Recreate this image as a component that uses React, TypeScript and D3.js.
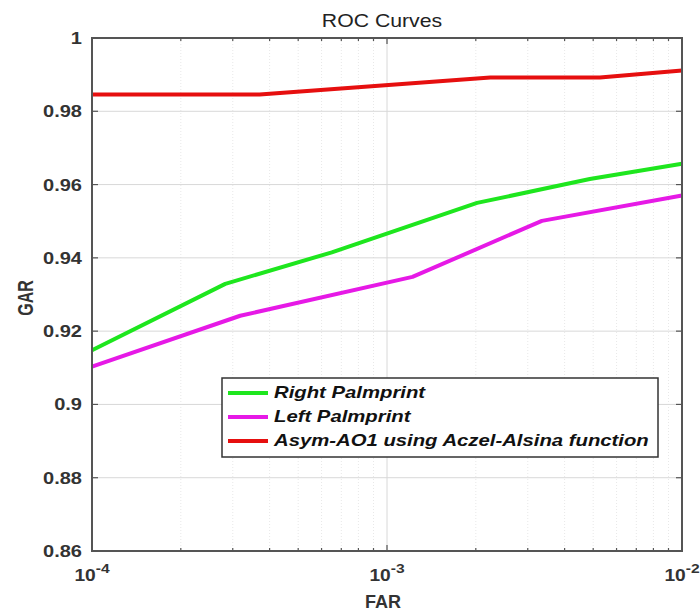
import React from "react";
import * as d3 from "d3";

const rightFar = [1e-4, 2.83e-4, 6.5e-4, 2.02e-3, 4.87e-3, 1e-2];
const rightGar = [0.9148, 0.9329, 0.9415, 0.955, 0.9615, 0.9657];
const leftFar = [1e-4, 3.18e-4, 1.22e-3, 3.35e-3, 1e-2];
const leftGar = [0.9103, 0.9242, 0.9348, 0.9501, 0.957];
const fusedFar = [1e-4, 3.7e-4, 2.24e-3, 5.27e-3, 1e-2];
const fusedGar = [0.9846, 0.9846, 0.9892, 0.9892, 0.9911];

const yTicks = [0.86, 0.88, 0.9, 0.92, 0.94, 0.96, 0.98, 1];
const yTickLabels = ["0.86", "0.88", "0.9", "0.92", "0.94", "0.96", "0.98", "1"];
const xTicks = [1e-4, 1e-3, 1e-2];
const xExps = ["-4", "-3", "-2"];

const seriesNames = ["Right Palmprint", "Left Palmprint", "Asym-AO1 using Aczel-Alsina function"];
const seriesColors = ["#1ee61e", "#e619e6", "#e60f0f"];

export default function App() {
  const W = 700, H = 612;
  const L = 92, R = 682, T = 38, B = 551;
  const SX = 1.25;
  const x = d3.scaleLog().domain([1e-4, 1e-2]).range([L, R]);
  const y = d3.scaleLinear().domain([0.86, 1]).range([B, T]);
  const line = d3.line<[number, number]>().x(d => x(d[0])).y(d => y(d[1]));
  const series: [number, number][][] = [
    rightFar.map((f, i) => [f, rightGar[i]]),
    leftFar.map((f, i) => [f, leftGar[i]]),
    fusedFar.map((f, i) => [f, fusedGar[i]]),
  ];
  const minor: number[] = [];
  for (const dec of [1e-4, 1e-3]) for (let k = 2; k <= 9; k++) minor.push(dec * k);
  const font = "Arial, 'Liberation Sans', sans-serif";
  const legX = 222, legY = 378, legW = 436, legH = 79;
  return (
    <svg width={W} height={H} style={{ position: "absolute", left: 0, top: 0, background: "#fff" }} fontFamily={font}>
      <rect x={0} y={0} width={W} height={H} fill="#fff" />
      {minor.map((m, i) => (
        <line key={"mg" + i} x1={x(m)} x2={x(m)} y1={T} y2={B} stroke="#e8e8e8" strokeWidth={1} strokeDasharray="1,2" />
      ))}
      {xTicks.map((t, i) => (
        <line key={"xg" + i} x1={x(t)} x2={x(t)} y1={T} y2={B} stroke="#d8d8d8" strokeWidth={1} />
      ))}
      {yTicks.map((t, i) => (
        <line key={"yg" + i} x1={L} x2={R} y1={y(t)} y2={y(t)} stroke="#d8d8d8" strokeWidth={1} />
      ))}
      {series.map((s, i) => (
        <path key={"s" + i} d={line(s) || ""} fill="none" stroke={seriesColors[i]} strokeWidth={4} strokeLinejoin="round" />
      ))}
      <rect x={L} y={T} width={R - L} height={B - T} fill="none" stroke="#555" strokeWidth={2} />
      {minor.map((m, i) => (
        <g key={"mt" + i}>
          <line x1={x(m)} x2={x(m)} y1={B} y2={B - 3} stroke="#555" strokeWidth={1.2} />
          <line x1={x(m)} x2={x(m)} y1={T} y2={T + 3} stroke="#555" strokeWidth={1.2} />
        </g>
      ))}
      {xTicks.map((t, i) => (
        <g key={"xt" + i}>
          <line x1={x(t)} x2={x(t)} y1={B} y2={B - 6} stroke="#555" strokeWidth={1.2} />
          <line x1={x(t)} x2={x(t)} y1={T} y2={T + 6} stroke="#555" strokeWidth={1.2} />
          <text transform={`translate(${x(t)},581) scale(1.2,1)`} textAnchor="middle" fontSize={16} fontWeight="bold" fill="#333">
            10
            <tspan dy={-8} fontSize={13}>{xExps[i]}</tspan>
          </text>
        </g>
      ))}
      {yTicks.map((t, i) => (
        <g key={"yt" + i}>
          <line x1={L} x2={L + 6} y1={y(t)} y2={y(t)} stroke="#555" strokeWidth={1.2} />
          <line x1={R} x2={R - 6} y1={y(t)} y2={y(t)} stroke="#555" strokeWidth={1.2} />
          <text transform={`translate(82,${y(t) + 6}) scale(${SX},1)`} textAnchor="end" fontSize={16} fontWeight="bold" fill="#333">
            {yTickLabels[i]}
          </text>
        </g>
      ))}
      <text transform="translate(382,27) scale(1.18,1)" textAnchor="middle" fontSize={18} fill="#222">ROC Curves</text>
      <text x={383} y={608} textAnchor="middle" fontSize={18} fontWeight="bold" fill="#333">FAR</text>
      <text transform="translate(33,298) rotate(-90) scale(1,1.4)" textAnchor="middle" fontSize={16} fontWeight="bold" fill="#333">GAR</text>
      <rect x={legX} y={legY} width={legW} height={legH} fill="#fff" stroke="#333" strokeWidth={1.5} />
      {seriesNames.map((n, i) => (
        <g key={"lg" + i}>
          <line x1={legX + 6} x2={legX + 46} y1={legY + 15 + i * 24} y2={legY + 15 + i * 24} stroke={seriesColors[i]} strokeWidth={4} />
          <text transform={`translate(${legX + 52},${legY + 20 + i * 24}) scale(1.27,1)`} fontSize={16} fontWeight="bold" fontStyle="italic" fill="#111">{n}</text>
        </g>
      ))}
    </svg>
  );
}
